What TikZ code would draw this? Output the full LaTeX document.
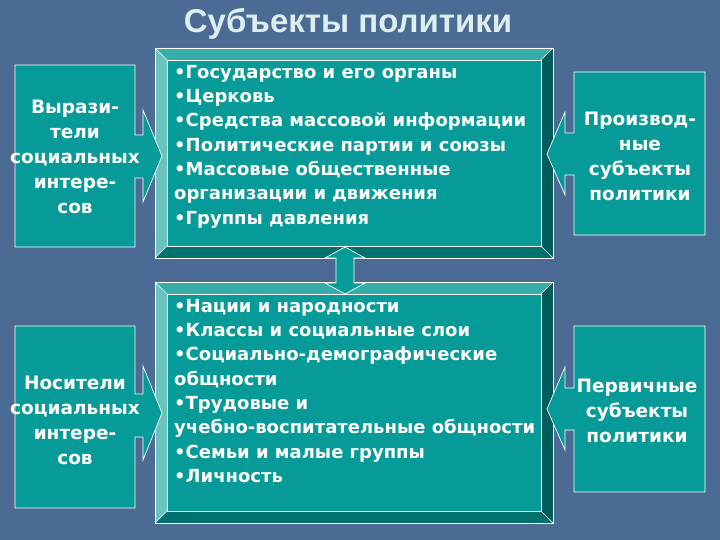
\documentclass[tikz,border=0pt]{standalone}
\usepackage{fontspec}
\setmainfont{DejaVu Sans}
\newfontfamily\titlefont{Liberation Sans}
\usetikzlibrary{calc}
\definecolor{bgblue}{HTML}{4B6A94}
\definecolor{tealface}{HTML}{069B98}
\definecolor{bevtop}{HTML}{35ADA8}
\definecolor{bevleft}{HTML}{6CC3BE}
\definecolor{bevright}{HTML}{005C5A}
\definecolor{bevbot}{HTML}{00716E}
\definecolor{titlecol}{HTML}{DCEEF0}
\tikzset{
  rim/.style={draw=white, line width=0.7pt},
  callout/.style={fill=tealface, draw=white, line width=0.7pt, line join=miter},
  sidetext/.style={text=white, align=center, inner sep=0pt,
    font=\fontsize{18.5}{25}\selectfont\bfseries},
  listtext/.style={text=white, align=left, inner sep=0pt,
    font=\fontsize{18}{24.3}\selectfont\bfseries},
}
% bevelled panel: #1,#2 top left, #3,#4 bottom right, #5 bevel
\newcommand{\panel}[5]{
  \fill[bevtop] (#1,#2) -- (#3,#2) -- (#3-#5,#2+#5) -- (#1+#5,#2+#5) -- cycle;
  \fill[bevleft] (#1,#2) -- (#1+#5,#2+#5) -- (#1+#5,#4-#5) -- (#1,#4) -- cycle;
  \fill[bevright] (#3,#2) -- (#3,#4) -- (#3-#5,#4-#5) -- (#3-#5,#2+#5) -- cycle;
  \fill[bevbot] (#1,#4) -- (#3,#4) -- (#3-#5,#4-#5) -- (#1+#5,#4-#5) -- cycle;
  \fill[tealface] (#1+#5,#2+#5) rectangle (#3-#5,#4-#5);
  \draw[rim] (#1,#2) rectangle (#3,#4);
  \draw[rim] (#1+#5,#2+#5) rectangle (#3-#5,#4-#5);
  \draw[rim, line width=0.4pt] (#1,#2) -- (#1+#5,#2+#5) (#3,#2) -- (#3-#5,#2+#5)
    (#1,#4) -- (#1+#5,#4-#5) (#3,#4) -- (#3-#5,#4-#5);
}

\begin{document}
\begin{tikzpicture}[x=1pt,y=-1pt]
    %background
    \fill[bgblue] (0,0) rectangle (720,540);
    \useasboundingbox (0,0) rectangle (720,540);
    %panels
    \panel{155}{48}{553}{258}{12}
    \panel{155}{282}{553}{523}{12}
    \coordinate (uptip) at (345,247);
    \coordinate (lowtip) at (345,294);
    %double arrow
    \draw[callout] (uptip) -- ($(uptip)+(20,11)$) -- ($(uptip)+(9,11)$)
        -- ($(lowtip)+(9,-11)$) -- ($(lowtip)+(20,-11)$) -- (lowtip)
        -- ($(lowtip)+(-20,-11)$) -- ($(lowtip)+(-9,-11)$)
        -- ($(uptip)+(-9,11)$) -- ($(uptip)+(-20,11)$) -- cycle;
    %callouts
    \draw[callout] (15,65) -- (135,65) -- (135,135) -- (143,135) -- (143,110)
        -- (162,156) -- (143,202) -- (143,178) -- (135,178) -- (135,247)
        -- (15,247) -- cycle;
    \draw[callout] (15,326) -- (135,326) -- (135,394) -- (143,394) -- (143,366)
        -- (162,413) -- (143,460) -- (143,437) -- (135,437) -- (135,508)
        -- (15,508) -- cycle;
    \draw[callout] (574,72) -- (705,72) -- (705,235) -- (574,235) -- (574,175)
        -- (565,175) -- (565,195) -- (547,154) -- (565,112) -- (565,133)
        -- (574,133) -- cycle;
    \draw[callout] (574,326) -- (705,326) -- (705,492) -- (574,492) -- (574,430)
        -- (565,430) -- (565,450) -- (547,409) -- (565,367) -- (565,388)
        -- (574,388) -- cycle;
    %labels
    \node[text=titlecol, font=\titlefont\fontsize{33}{36}\selectfont\bfseries]
        (title) at (348,24) {Субъекты политики};
    \node[sidetext] (expr) at (75,157) {Вырази-\\тели\\социальных\\интере-\\сов};
    \node[sidetext] (carr) at (75,420) {Носители\\социальных\\интере-\\сов};
    \node[sidetext] (deriv) at (640,156) {Производ-\\ные\\субъекты\\политики};
    \node[sidetext] (prim) at (637,411) {Первичные\\субъекты\\политики};
    \node[listtext, anchor=west] (orgs) at (174,146.5) {•Государство и его органы\\
        •Церковь\\•Средства массовой информации\\•Политические партии и союзы\\
        •Массовые общественные\\организации и движения\\•Группы давления};
    \node[listtext, anchor=west] (groups) at (174,391) {•Нации и народности\\
        •Классы и социальные слои\\•Социально-демографические\\общности\\
        •Трудовые и\\учебно-воспитательные общности\\•Семьи и малые группы\\
        •Личность};
\end{tikzpicture}
\end{document}
